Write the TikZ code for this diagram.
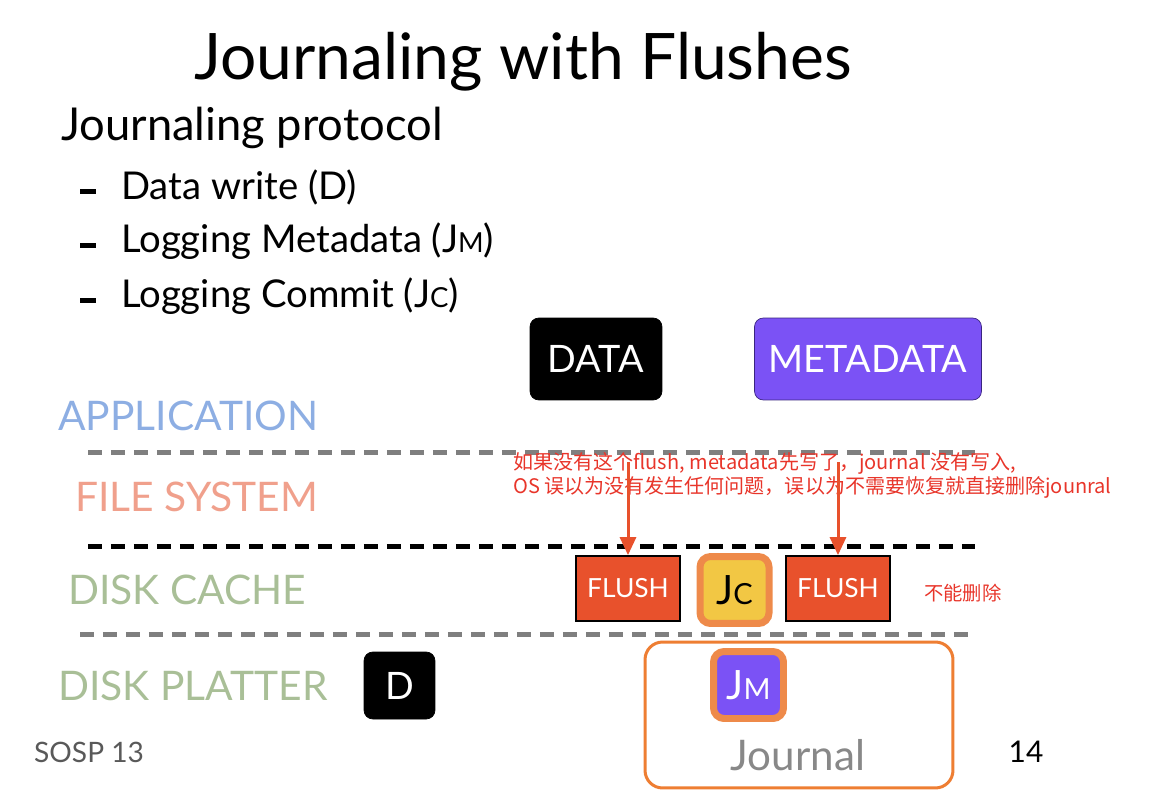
\documentclass[tikz,border=0pt]{standalone}
\usepackage{fontspec}
\setmainfont{Lato}
\newfontfamily\cjk{Noto Sans CJK SC}
\usepackage{xcolor}
\usepackage{tikz}
\usetikzlibrary{arrows.meta,positioning}
\definecolor{appblue}{HTML}{8DAEE3}
\definecolor{fssalmon}{HTML}{F0A08C}
\definecolor{disksage}{HTML}{A9BF97}
\definecolor{dashgray}{HTML}{7F7F7F}
\definecolor{metapurple}{HTML}{7B52F5}
\definecolor{metaedge}{HTML}{3A2580}
\definecolor{flushred}{HTML}{E8512C}
\definecolor{commityellow}{HTML}{F2C744}
\definecolor{ringorange}{HTML}{EE8A4A}
\definecolor{journalorange}{HTML}{EE7E33}
\definecolor{notered}{HTML}{E8352A}
\definecolor{journalgray}{HTML}{888888}
\newcommand{\jlog}[1]{J\scalebox{0.72}{#1}}

\begin{document}
\begin{tikzpicture}[x=0.02cm,y=-0.02cm,
  layer/.style={anchor=west, font=\fontsize{23.2}{27}\selectfont},
  sep/.style={line width=0.1cm, dash pattern=on 0.28cm off 0.18cm},
  blk/.style={
    rectangle, rounded corners=5pt, draw=black, fill=black, text=white,
    minimum height=1.64cm, font=\fontsize{21.5}{24}\selectfont
  },
  flushbox/.style={
    rectangle, draw=black, line width=1pt, fill=flushred, text=white,
    minimum width=2.08cm, minimum height=1.3cm, font=\fontsize{15}{18}\selectfont
  },
  logbox/.style={
    rectangle, rounded corners=6pt, draw=ringorange, line width=0.14cm,
    minimum width=1.38cm, minimum height=1.34cm, font=\fontsize{23}{25}\selectfont
  },
  arrow/.style={-{Triangle[length=3.6mm,width=3.2mm]}, line width=0.06cm, draw=flushred}
]
\useasboundingbox (0,0) rectangle (1150,808);

% title and protocol list
\node (title) at (523,62) {\fontsize{36.5}{40}\selectfont Journaling with Flushes};
\node[anchor=west] (proto) at (55,128) {\fontsize{25.8}{29}\selectfont Journaling protocol};
\foreach \yy/\txt [count=\i] in {187/Data write (D), 241/Logging Metadata (\jlog{M}), 296/Logging Commit (\jlog{C})} {
  \fill (80,\yy+2) rectangle (96,\yy+7);
  \node[anchor=west, font=\fontsize{21.8}{25}\selectfont] (step\i) at (115,\yy) {\txt};
}

% layers
\node[layer, text=appblue] (app) at (52,416) {APPLICATION};
\node[layer, text=fssalmon] (fs) at (69,497) {FILE SYSTEM};
\node[layer, text=disksage] (cache) at (62,590) {DISK CACHE};
\node[layer, text=disksage] (platter) at (52,686) {DISK PLATTER};
\draw[sep, dashgray] (88,452) -- (975,452);
\draw[sep, black] (88,546) -- (975,546);
\draw[sep, dashgray] (80,634) -- (968,634);

% blocks
\node[blk, minimum width=2.64cm] (data) at (596,359) {DATA};
\node[blk, minimum width=4.54cm, fill=metapurple, draw=metaedge] (meta) at (868,359) {METADATA};
\node[blk, minimum width=1.42cm, minimum height=1.34cm] (dblk) at (399.5,685.5) {D};
\node[flushbox] (flusha) at (628,588.5) {FLUSH};
\node[flushbox] (flushb) at (838,588.5) {FLUSH};
\node[logbox, fill=commityellow] (jc) at (734.5,590) {\jlog{C}};
\node[rectangle, rounded corners=10pt, draw=journalorange, line width=0.06cm,
  minimum width=6.16cm, minimum height=2.92cm] (journal) at (799,715) {};
\node[logbox, fill=metapurple, text=white, minimum width=1.4cm] (jm) at (748.5,685) {\jlog{M}};
\node[text=journalgray, font=\fontsize{24}{26}\selectfont] (jtext) at (798,755) {Journal};

% notes
\node[anchor=north west, align=left, text=notered, font=\cjk\fontsize{11.4}{14}\selectfont, inner sep=0pt] (note) at (513,452)
  {如果没有这个flush, metadata先写了，journal 没有写入,\\OS 误以为没有发生任何问题，误以为不需要恢复就直接删除jounral};
\node[anchor=west, text=notered, font=\cjk\fontsize{11}{13}\selectfont] (keep) at (918,593) {不能删除};
\coordinate (froma) at (628,462);
\coordinate (fromb) at (838,462);
\draw[arrow] (froma) -- (flusha.north);
\draw[arrow] (fromb) -- (flushb.north);

% footer
\node[anchor=west, text=black!65, font=\fontsize{16}{19}\selectfont] (venue) at (28,752) {SOSP 13};
\node[font=\fontsize{17}{20}\selectfont] (page) at (1026,752) {14};
\end{tikzpicture}
\end{document}
